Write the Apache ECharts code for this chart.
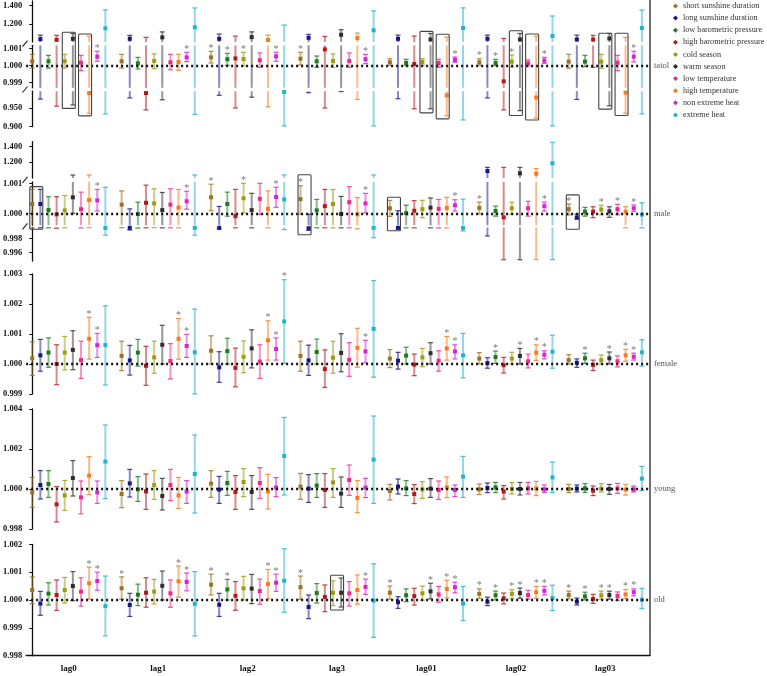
<!DOCTYPE html>
<html>
<head>
<meta charset="utf-8">
<script src="https://cdn.jsdelivr.net/npm/echarts@6.0.0/dist/echarts.min.js"></script>
<style>
  html, body { margin: 0; padding: 0; background: #fff; }
  #chart { width: 767px; height: 676px; }
</style>
</head>
<body>
<div id="chart"></div>
<script>
var seriesNames = ['short sunshine duration', 'long sunshine duration', 'low barometric pressure', 'high barometric pressure',
  'cold season', 'warm season', 'low temperature', 'high temperature', 'non extreme heat', 'extreme heat']
var lagLabels = ['lag0', 'lag1', 'lag2', 'lag3', 'lag01', 'lag02', 'lag03']
var panelNames = ['tatol', 'male', 'female', 'young', 'old']

// tick labels of each axis piece
var tatolTicks = [[1.2, 1.4], [0.999, 1.000, 1.001], [0.900, 0.950]]
var maleTicks = [[1.2, 1.4], [1.000, 1.001], [0.996, 0.998]]
var femaleTicks = [0.999, 1.000, 1.001, 1.002, 1.003]
var youngTicks = [0.998, 1.000, 1.002, 1.004]
var oldTicks = [0.998, 0.999, 1.000, 1.001, 1.002]

// rows = lag, columns = series (same order as seriesNames)
var tatolRR = [
  [1.00026, 1.033, 1.00026, 1.025, 1.00026, 1.036, 1.00018, 0.990, 1.00053, 1.151],
  [1.00026, 1.036, 1.00014, 0.990, 1.00028, 1.052, 1.00020, 1.00022, 1.00049, 1.162],
  [1.00049, 1.036, 1.00038, 1.00043, 1.00039, 1.055, 1.00032, 1.022, 1.00055, 0.993],
  [1.00041, 1.047, 1.00026, 1.00096, 1.00028, 1.081, 1.00028, 1.044, 1.00038, 1.129],
  [1.00020, 1.036, 1.00016, 1.00010, 1.00022, 1.029, 1.00016, 0.984, 1.00034, 1.154],
  [1.00020, 1.036, 1.00016, 0.99908, 1.00024, 1.029, 1.00014, 0.978, 1.00030, 1.066],
  [1.00024, 1.029, 1.00024, 1.029, 1.00024, 1.040, 1.00018, 0.991, 1.00053, 1.154]
]
var tatolLow = [
  [0.99986, 0.974, 0.99986, 0.955, 0.99986, 0.958, 0.99971, 0.936, 1.00026, 0.934],
  [0.99986, 0.977, 0.99981, 0.945, 0.99982, 0.972, 0.99976, 0.99973, 1.00024, 0.933],
  [1.00016, 0.984, 1.00002, 0.950, 0.99998, 0.979, 0.99990, 0.953, 1.00026, 0.902],
  [1.00004, 0.991, 0.99990, 0.950, 0.99990, 0.994, 0.99990, 0.973, 1.00012, 0.902],
  [1.00002, 0.975, 1.00000, 0.948, 1.00002, 0.948, 0.99990, 0.929, 1.00020, 0.918],
  [1.00002, 0.977, 1.00000, 0.945, 0.99992, 0.943, 0.99998, 0.923, 1.00014, 0.902],
  [0.99985, 0.973, 0.99994, 0.99990, 0.99985, 0.956, 0.99971, 0.936, 1.00022, 0.934]
]
var tatolHigh = [
  [1.00067, 1.077, 1.00061, 1.074, 1.00067, 1.095, 1.00061, 1.066, 1.00085, 1.353],
  [1.00067, 1.074, 1.00049, 1.052, 1.00070, 1.112, 1.00067, 1.00067, 1.00079, 1.374],
  [1.00085, 1.088, 1.00073, 1.066, 1.00079, 1.112, 1.00075, 1.077, 1.00079, 1.187],
  [1.00079, 1.085, 1.00057, 1.063, 1.00069, 1.136, 1.00075, 1.099, 1.00067, 1.342],
  [1.00041, 1.077, 1.00038, 1.066, 1.00041, 1.095, 1.00038, 1.055, 1.00051, 1.375],
  [1.00041, 1.077, 1.00038, 1.040, 1.00063, 1.095, 1.00034, 1.066, 1.00049, 1.286],
  [1.00067, 1.077, 1.00061, 1.074, 1.00067, 1.095, 1.00061, 1.052, 1.00085, 1.351]
]
var tatolStars = [[8], [8], [0, 2, 4, 8], [0, 8], [8], [0, 2, 4, 8], [8]]

var maleRR = [
  [1.00032, 1.00032, 1.00012, 0.99998, 1.00011, 1.00054, 1.00015, 1.00045, 1.00044, 0.99955],
  [1.00030, 0.99955, 0.99999, 1.00036, 1.00034, 1.00012, 1.00030, 1.00020, 1.00041, 0.99955],
  [1.00054, 0.99955, 1.00032, 0.99992, 1.00051, 1.00012, 1.00049, 1.00016, 1.00055, 1.00047],
  [1.00048, 0.99950, 1.00011, 1.00025, 1.00032, 0.99999, 1.00038, 0.99998, 1.00034, 0.99955],
  [1.00018, 0.99955, 1.00002, 1.00010, 1.00015, 1.00020, 1.00016, 1.00019, 1.00028, 0.99955],
  [1.00019, 1.089, 1.00009, 0.99988, 1.00018, 1.060, 1.00018, 1.055, 1.00025, 1.187],
  [1.00015, 0.99988, 1.00007, 1.00007, 1.00014, 1.00008, 1.00015, 1.00007, 1.00018, 0.99997]
]
var maleLow = [
  [0.99955, 0.99955, 0.99955, 0.99950, 0.99955, 1.00001, 0.99955, 0.99958, 1.00009, 0.99850],
  [0.99958, 0.99924, 0.99952, 0.99955, 0.99958, 0.99955, 0.99955, 0.99955, 1.00015, 0.99850],
  [1.00010, 0.99940, 0.99992, 0.99955, 1.00003, 0.99955, 0.99998, 0.99955, 1.00021, 0.99930],
  [0.99998, 0.99920, 0.99955, 0.99955, 0.99955, 0.99955, 0.99955, 0.99940, 1.00003, 0.99814],
  [0.99991, 0.99940, 0.99955, 0.99955, 0.99987, 0.99955, 0.99955, 0.99955, 1.00009, 0.99910],
  [0.99999, 0.99839, 0.99992, 0.99500, 0.99998, 0.99500, 0.99992, 0.99500, 1.00009, 0.99500],
  [0.99996, 0.99982, 0.99992, 0.99987, 0.99997, 0.99988, 0.99997, 0.99955, 1.00008, 0.99955]
]
var maleHigh = [
  [1.00080, 1.00080, 1.00056, 1.00056, 1.00060, 1.039, 1.00071, 1.039, 1.00080, 1.00087],
  [1.00075, 1.00016, 1.00038, 1.00094, 1.00082, 1.00070, 1.00082, 1.00080, 1.00074, 1.039],
  [1.00097, 1.00024, 1.00071, 1.00080, 1.00100, 1.00067, 1.00100, 1.00075, 1.00087, 1.040],
  [1.00092, 0.99998, 1.00047, 1.00080, 1.00080, 1.00057, 1.00089, 1.00053, 1.00067, 1.039],
  [1.00044, 1.00010, 1.00028, 1.00043, 1.00044, 1.00052, 1.00047, 1.00054, 1.00046, 1.00048],
  [1.00038, 1.136, 1.00025, 1.136, 1.00038, 1.136, 1.00041, 1.120, 1.00038, 1.452],
  [1.00032, 0.99999, 1.00021, 1.00023, 1.00028, 1.00023, 1.00031, 1.00023, 1.00029, 1.00036]
]
var maleStars = [[8], [8], [0, 4, 8], [0, 8], [8], [0, 8], [0, 4, 6, 8]]

var femaleRR = [
  [1.00019, 1.00029, 1.00038, 1.00000, 1.00038, 1.00047, 1.00013, 1.00084, 1.00063, 1.00063],
  [1.00027, 1.00012, 1.00038, 0.99994, 1.00022, 1.00064, 1.00010, 1.00084, 1.00060, 1.00039],
  [1.00044, 0.99989, 1.00043, 0.99987, 1.00024, 1.00052, 1.00008, 1.00079, 1.00050, 1.00142],
  [1.00027, 1.00012, 1.00040, 0.99983, 1.00021, 1.00037, 1.00014, 1.00054, 1.00042, 1.00117],
  [1.00018, 1.00011, 1.00028, 0.99998, 1.00022, 1.00036, 1.00011, 1.00052, 1.00042, 1.00029],
  [1.00018, 1.00003, 1.00023, 0.99996, 1.00018, 1.00027, 1.00009, 1.00038, 1.00031, 1.00041],
  [1.00013, 1.00004, 1.00019, 0.99997, 1.00013, 1.00019, 1.00009, 1.00029, 1.00024, 1.00039]
]
var femaleLow = [
  [0.99962, 0.99976, 0.99989, 0.99931, 0.99980, 0.99981, 0.99952, 1.00016, 1.00022, 0.99930],
  [0.99978, 0.99963, 0.99993, 0.99929, 0.99969, 1.00000, 0.99950, 1.00016, 1.00022, 0.99900],
  [1.00000, 0.99939, 1.00000, 0.99924, 0.99971, 0.99987, 0.99952, 1.00013, 1.00013, 1.00002],
  [0.99976, 0.99962, 1.00000, 0.99922, 0.99969, 0.99974, 0.99959, 0.99989, 1.00004, 0.99956],
  [0.99988, 0.99983, 1.00000, 0.99961, 0.99991, 1.00000, 0.99976, 1.00013, 1.00017, 0.99954],
  [1.00000, 0.99986, 1.00002, 0.99970, 1.00000, 1.00000, 0.99987, 1.00012, 1.00017, 0.99986],
  [1.00000, 0.99989, 1.00002, 0.99978, 1.00000, 1.00000, 0.99990, 1.00009, 1.00013, 0.99993]
]
var femaleHigh = [
  [1.00074, 1.00082, 1.00087, 1.00064, 1.00092, 1.00111, 1.00076, 1.00156, 1.00102, 1.00194],
  [1.00076, 1.00062, 1.00082, 1.00059, 1.00076, 1.00129, 1.00068, 1.00152, 1.00099, 1.00183],
  [1.00094, 1.00041, 1.00086, 1.00053, 1.00077, 1.00114, 1.00064, 1.00144, 1.00087, 1.00281],
  [1.00076, 1.00063, 1.00083, 1.00047, 1.00076, 1.00101, 1.00071, 1.00119, 1.00079, 1.00278],
  [1.00048, 1.00039, 1.00056, 1.00033, 1.00052, 1.00071, 1.00044, 1.00092, 1.00064, 1.00102],
  [1.00038, 1.00021, 1.00043, 1.00022, 1.00039, 1.00052, 1.00033, 1.00064, 1.00044, 1.00096],
  [1.00031, 1.00017, 1.00036, 1.00013, 1.00030, 1.00040, 1.00027, 1.00049, 1.00036, 1.00081]
]
var femaleStars = [[7, 8], [7, 8], [7, 8, 9], [8], [7, 8], [2, 5, 7, 8], [2, 5, 7, 8]]

var youngRR = [
  [0.99983, 1.00020, 1.00025, 0.99923, 0.99968, 1.00055, 0.99958, 1.00067, 0.99983, 1.00137],
  [0.99975, 1.00028, 0.99998, 0.99988, 1.00020, 0.99965, 1.00020, 0.99968, 0.99987, 1.00075],
  [1.00027, 0.99997, 1.00030, 0.99985, 1.00035, 0.99985, 1.00030, 0.99988, 1.00007, 1.00165],
  [1.00012, 1.00002, 1.00017, 0.99995, 1.00033, 0.99977, 1.00045, 0.99955, 1.00007, 1.00147],
  [0.99990, 1.00012, 1.00003, 0.99975, 0.99998, 1.00002, 0.99995, 1.00008, 0.99995, 1.00062],
  [0.99998, 1.00005, 1.00008, 0.99987, 1.00000, 1.00000, 1.00003, 1.00002, 0.99998, 1.00058],
  [1.00000, 1.00002, 1.00003, 0.99992, 1.00002, 1.00000, 1.00003, 0.99997, 0.99998, 1.00052]
]
var youngLow = [
  [0.99908, 0.99950, 0.99958, 0.99835, 0.99893, 0.99965, 0.99876, 0.99972, 0.99928, 0.99952],
  [0.99907, 0.99960, 0.99938, 0.99898, 0.99948, 0.99895, 0.99942, 0.99903, 0.99928, 0.99880],
  [0.99958, 0.99928, 0.99968, 0.99898, 0.99962, 0.99898, 0.99953, 0.99900, 0.99962, 0.99970],
  [0.99948, 0.99933, 0.99958, 0.99908, 0.99958, 0.99908, 0.99968, 0.99882, 0.99957, 0.99928],
  [0.99945, 0.99975, 0.99967, 0.99927, 0.99953, 0.99958, 0.99948, 0.99957, 0.99962, 0.99958],
  [0.99972, 0.99982, 0.99982, 0.99950, 0.99975, 0.99970, 0.99975, 0.99967, 0.99983, 0.99983],
  [0.99982, 0.99985, 0.99983, 0.99967, 0.99985, 0.99973, 0.99978, 0.99970, 0.99985, 0.99992]
]
var youngHigh = [
  [1.00058, 1.00092, 1.00092, 1.00012, 1.00043, 1.00142, 1.00040, 1.00162, 1.00040, 1.00320],
  [1.00042, 1.00098, 1.00062, 1.00075, 1.00092, 1.00053, 1.00098, 1.00058, 1.00042, 1.00270],
  [1.00092, 1.00063, 1.00088, 1.00067, 1.00102, 1.00067, 1.00107, 1.00073, 1.00057, 1.00358],
  [1.00078, 1.00072, 1.00077, 1.00077, 1.00102, 1.00060, 1.00120, 1.00042, 1.00053, 1.00365],
  [1.00023, 1.00050, 1.00042, 1.00022, 1.00037, 1.00052, 1.00040, 1.00060, 1.00020, 1.00163],
  [1.00025, 1.00030, 1.00033, 1.00017, 1.00032, 1.00033, 1.00033, 1.00038, 1.00020, 1.00135],
  [1.00023, 1.00020, 1.00027, 1.00015, 1.00027, 1.00023, 1.00028, 1.00023, 1.00015, 1.00113]
]
var youngStars = [[], [], [], [], [], [], []]

var oldRR = [
  [1.00036, 0.99987, 1.00023, 1.00018, 1.00036, 1.00050, 1.00030, 1.00060, 1.00068, 0.99978],
  [1.00042, 0.99982, 1.00019, 1.00026, 1.00030, 1.00051, 1.00024, 1.00067, 1.00065, 0.99986],
  [1.00055, 0.99983, 1.00038, 1.00015, 1.00042, 1.00041, 1.00032, 1.00057, 1.00062, 1.00069],
  [1.00046, 0.99975, 1.00025, 1.00011, 1.00026, 1.00026, 1.00024, 1.00036, 1.00047, 0.99998],
  [1.00026, 0.99992, 1.00017, 1.00014, 1.00024, 1.00031, 1.00020, 1.00040, 1.00046, 0.99987],
  [1.00022, 0.99994, 1.00017, 1.00006, 1.00022, 1.00025, 1.00018, 1.00028, 1.00033, 1.00007],
  [1.00018, 0.99994, 1.00013, 1.00004, 1.00017, 1.00018, 1.00014, 1.00020, 1.00028, 1.00001]
]
var oldLow = [
  [0.99986, 0.99945, 0.99982, 0.99963, 0.99989, 0.99998, 0.99978, 1.00003, 1.00035, 0.99871],
  [1.00003, 0.99941, 0.99980, 0.99974, 0.99986, 1.00000, 0.99974, 1.00010, 1.00033, 0.99871],
  [1.00018, 0.99941, 1.00000, 0.99963, 1.00000, 0.99987, 0.99985, 1.00004, 1.00031, 0.99956],
  [1.00003, 0.99933, 0.99989, 0.99958, 0.99980, 0.99975, 0.99978, 0.99985, 1.00020, 0.99866],
  [1.00003, 0.99970, 0.99994, 0.99982, 0.99999, 1.00004, 0.99992, 1.00008, 1.00026, 0.99926],
  [1.00006, 0.99980, 1.00000, 0.99986, 1.00005, 1.00006, 1.00003, 1.00006, 1.00018, 0.99962],
  [1.00004, 0.99982, 1.00000, 0.99988, 1.00003, 1.00003, 0.99999, 1.00005, 1.00015, 0.99969]
]
var oldHigh = [
  [1.00083, 1.00031, 1.00062, 1.00072, 1.00081, 1.00102, 1.00080, 1.00118, 1.00100, 1.00086],
  [1.00083, 1.00024, 1.00057, 1.00080, 1.00074, 1.00104, 1.00072, 1.00122, 1.00097, 1.00102],
  [1.00093, 1.00024, 1.00074, 1.00066, 1.00085, 1.00092, 1.00075, 1.00110, 1.00093, 1.00184],
  [1.00086, 1.00018, 1.00059, 1.00054, 1.00069, 1.00079, 1.00066, 1.00090, 1.00075, 1.00130],
  [1.00050, 1.00012, 1.00040, 1.00042, 1.00050, 1.00060, 1.00049, 1.00071, 1.00064, 1.00049],
  [1.00040, 1.00010, 1.00032, 1.00025, 1.00037, 1.00043, 1.00035, 1.00049, 1.00049, 1.00053],
  [1.00032, 1.00007, 1.00028, 1.00020, 1.00032, 1.00032, 1.00029, 1.00038, 1.00040, 1.00042]
]
var oldStars = [[7, 8], [0, 7, 8], [0, 2, 7, 8], [0, 8], [0, 5, 7, 8], [0, 2, 4, 5, 7, 8], [0, 2, 4, 5, 7, 8]]

// highlighted boxes: panel, lag, first series, last series, low value, high value
var boxes = [
  [0, 0, 4, 5, 0.949, 1.108], [0, 0, 6, 7, 0.929, 1.089],
  [0, 4, 4, 5, 0.937, 1.118], [0, 4, 6, 7, 0.921, 1.086],
  [0, 5, 4, 5, 0.930, 1.125], [0, 5, 6, 7, 0.918, 1.089],
  [0, 6, 4, 5, 0.947, 1.097], [0, 6, 6, 7, 0.930, 1.097],
  [1, 0, 0, 1, 0.99934, 1.00089], [1, 3, 0, 1, 0.99857, 1.043],
  [1, 4, 0, 1, 0.99914, 1.00054], [1, 6, 0, 1, 0.99934, 1.00062],
  [4, 3, 4, 5, 0.99964, 1.00089]
]

var colors = ['#9a7322', '#161688', '#1f7a1f', '#b3191c', '#9c9c14', '#2e2e2e', '#f0288c', '#f77a1c', '#d424d4', '#22b2cc']
var serif = 'Liberation Serif'

var panels = [
  { rr: tatolRR, low: tatolLow, high: tatolHigh, stars: tatolStars },
  { rr: maleRR, low: maleLow, high: maleHigh, stars: maleStars },
  { rr: femaleRR, low: femaleLow, high: femaleHigh, stars: femaleStars },
  { rr: youngRR, low: youngLow, high: youngHigh, stars: youngStars },
  { rr: oldRR, low: oldLow, high: oldHigh, stars: oldStars }
]

// axis pieces (broken axes for tatol and male)
var segs = [
  { panel: 0, min: 1.0013, max: 1.45, top: 1, height: 41, ticks: tatolTicks[0] },
  { panel: 0, min: 0.9987, max: 1.0012, top: 45.3, height: 42.5, ticks: tatolTicks[1], ref: true },
  { panel: 0, min: 0.9, max: 0.995, top: 91.2, height: 35.5, ticks: tatolTicks[2] },
  { panel: 1, min: 1.00106, max: 1.46, top: 141.7, height: 36.3, ticks: maleTicks[0] },
  { panel: 1, min: 0.99962, max: 1.00105, top: 181.8, height: 43.5, ticks: maleTicks[1], ref: true },
  { panel: 1, min: 0.9948, max: 0.9996, top: 227.5, height: 33.6, ticks: maleTicks[2] },
  { panel: 2, min: 0.999, max: 1.003, top: 274, height: 120, ticks: femaleTicks, ref: true },
  { panel: 3, min: 0.998, max: 1.004, top: 409, height: 120, ticks: youngTicks, ref: true },
  { panel: 4, min: 0.998, max: 1.002, top: 544.3, height: 111.4, ticks: oldTicks, ref: true }
]

var xMin = -0.75
var xMax = 76
var gridLeft = 25
var gridRight = 117

function makeRender (seg, color) {
  return function (params, api) {
    var x = api.value(0)
    var v = api.value(1)
    var lo = api.value(2)
    var hi = api.value(3)
    var star = api.value(4)
    var a = Math.max(lo, seg.min)
    var b = Math.min(hi, seg.max)
    if (a > b) return null
    var pa = api.coord([x, a])
    var pb = api.coord([x, b])
    var kids = [{
      type: 'line',
      shape: { x1: pa[0], y1: pa[1], x2: pb[0], y2: pb[1] },
      style: { stroke: color, lineWidth: 2, opacity: 0.5 }
    }]
    if (hi <= seg.max) {
      kids.push({ type: 'line', shape: { x1: pb[0] - 2.5, y1: pb[1], x2: pb[0] + 2.5, y2: pb[1] }, style: { stroke: color, lineWidth: 1.2, opacity: 0.8 } })
      if (star) {
        kids.push({ type: 'text', x: pb[0], y: pb[1] - 3, style: { text: '*', fill: '#777', fontSize: 10, fontFamily: serif, align: 'center', verticalAlign: 'middle' } })
      }
    }
    if (lo >= seg.min) {
      kids.push({ type: 'line', shape: { x1: pa[0] - 2.5, y1: pa[1], x2: pa[0] + 2.5, y2: pa[1] }, style: { stroke: color, lineWidth: 1.2, opacity: 0.8 } })
    }
    if (v >= seg.min && v <= seg.max) {
      var pv = api.coord([x, v])
      kids.push({ type: 'rect', shape: { x: pv[0] - 2, y: pv[1] - 2, width: 4, height: 4 }, style: { fill: color } })
    }
    return { type: 'group', children: kids }
  }
}

var grids = []
var xAxes = []
var yAxes = []
var series = []

segs.forEach(function (seg, gi) {
  var last = gi === segs.length - 1
  grids.push({ left: gridLeft, right: gridRight, top: seg.top, height: seg.height })
  xAxes.push({
    gridIndex: gi,
    type: 'value',
    min: xMin,
    max: xMax,
    show: last,
    axisLine: { show: true, lineStyle: { color: '#111', width: 1.3 } },
    axisTick: { show: false },
    splitLine: { show: false },
    axisLabel: {
      customValues: lagLabels.map(function (l, g) { return g * 11 + 4.5 }),
      formatter: function (val) { return lagLabels[Math.round((val - 4.5) / 11)] },
      fontFamily: serif,
      fontWeight: 'bold',
      fontSize: 9,
      color: '#111',
      margin: 8
    }
  })
  yAxes.push({
    gridIndex: gi,
    type: 'value',
    min: seg.min,
    max: seg.max,
    axisLine: { show: true, lineStyle: { color: '#111', width: 1.3 } },
    axisTick: { show: true, length: 3, customValues: seg.ticks, lineStyle: { color: '#111', width: 1 } },
    axisLabel: {
      customValues: seg.ticks,
      formatter: function (val) { return val.toFixed(3) },
      fontFamily: serif,
      fontWeight: 'bold',
      fontSize: 8.5,
      color: '#111',
      margin: 4
    },
    splitLine: { show: false }
  })

  var p = panels[seg.panel]
  seriesNames.forEach(function (name, s) {
    var data = []
    for (var g = 0; g < lagLabels.length; g++) {
      data.push([g * 11 + s, p.rr[g][s], p.low[g][s], p.high[g][s], p.stars[g].indexOf(s) >= 0 ? 1 : 0])
    }
    series.push({
      type: 'custom',
      name: name,
      xAxisIndex: gi,
      yAxisIndex: gi,
      itemStyle: { color: colors[s] },
      encode: { x: 0, y: 1 },
      renderItem: makeRender(seg, colors[s]),
      data: data,
      silent: true
    })
  })

  if (seg.ref) {
    series.push({
      type: 'line',
      name: 'ref',
      xAxisIndex: gi,
      yAxisIndex: gi,
      data: [],
      z: 5,
      markLine: {
        silent: true,
        symbol: 'none',
        lineStyle: { color: '#111', width: 2.4, type: [2, 3] },
        label: {
          show: true,
          position: 'end',
          formatter: panelNames[seg.panel],
          fontFamily: serif,
          fontSize: 8.5,
          color: '#555',
          distance: 4
        },
        data: [{ yAxis: 1 }]
      }
    })
  }
})

var chart = echarts.init(document.getElementById('chart'))
chart.setOption({
  animation: false,
  backgroundColor: '#fff',
  legend: {
    orient: 'vertical',
    left: 673,
    top: 0,
    padding: 0,
    itemWidth: 5,
    itemHeight: 5,
    itemGap: 0.1,
    icon: 'diamond',
    data: seriesNames,
    textStyle: { fontFamily: serif, fontSize: 8.2, lineHeight: 12, color: '#333' }
  },
  grid: grids,
  xAxis: xAxes,
  yAxis: yAxes,
  series: series
})

// right border, axis breaks and highlight boxes
var W = chart.getWidth()
var xRight = W - gridRight
var bottomY = segs[segs.length - 1].top + segs[segs.length - 1].height
var gfx = [{
  type: 'line',
  shape: { x1: xRight, y1: 0, x2: xRight, y2: bottomY },
  style: { stroke: '#222', lineWidth: 1.3 },
  z: 10
}]

for (var i = 0; i < segs.length - 1; i++) {
  if (segs[i].panel !== segs[i + 1].panel) continue
  var yEnd = segs[i].top + segs[i].height
  var yStart = segs[i + 1].top
  var yMid = (yEnd + yStart) / 2
  gfx.push({ type: 'rect', shape: { x: gridLeft - 2, y: yEnd + 0.7, width: 4, height: yStart - yEnd - 1.4 }, style: { fill: '#fff' }, z: 10 })
  gfx.push({ type: 'line', shape: { x1: gridLeft - 2.5, y1: yMid + 3, x2: gridLeft + 2.5, y2: yMid - 3 }, style: { stroke: '#222', lineWidth: 1.1 }, z: 11 })
}

function toPixel (panelIdx, x, v) {
  var best = -1
  var bestDist = Infinity
  segs.forEach(function (seg, i) {
    if (seg.panel !== panelIdx) return
    var d = v < seg.min ? seg.min - v : (v > seg.max ? v - seg.max : 0)
    if (d < bestDist) { bestDist = d; best = i }
  })
  return chart.convertToPixel({ gridIndex: best }, [x, v])
}

boxes.forEach(function (b) {
  var x0 = b[1] * 11 + b[2] - 0.3
  var x1 = b[1] * 11 + b[3] + 0.3
  var pLow = toPixel(b[0], x0, b[4])
  var pHigh = toPixel(b[0], x1, b[5])
  gfx.push({
    type: 'rect',
    shape: { x: pLow[0], y: pHigh[1], width: pHigh[0] - pLow[0], height: pLow[1] - pHigh[1], r: 1 },
    style: { fill: 'none', stroke: '#444', lineWidth: 1.1 },
    z: 12
  })
})

chart.setOption({ graphic: gfx })
</script>
</body>
</html>
